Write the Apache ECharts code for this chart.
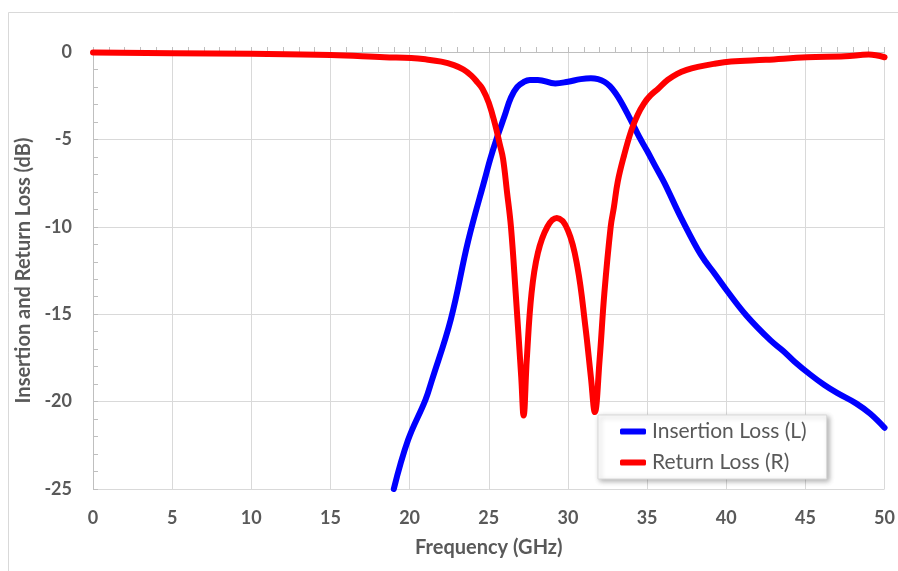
<!DOCTYPE html>
<html>
<head>
<meta charset="utf-8">
<script src="https://cdn.jsdelivr.net/npm/echarts@6/dist/echarts.min.js"></script>
<style>
html,body{margin:0;padding:0;background:#fff;}
#chart{width:898px;height:571px;}
</style>
</head>
<body>
<div id="chart"></div>
<script>
// Insertion loss (blue)
var insFreq = [19.0, 19.9, 21.0, 21.4, 22.6, 23.7, 24.8, 25.1, 25.5, 26.0, 26.4, 26.8, 27.2, 27.6, 28.1, 29.2, 30.0, 30.8, 31.45, 31.9, 32.3, 32.65, 33.0, 33.35, 34.0, 34.5, 35.0, 35.5, 36.1, 37.1, 38.2, 38.7, 39.2, 40.0, 41.3, 42.8, 43.6, 44.3, 45.3, 46.2, 47.0, 48.2, 49.1, 50.0];
var insLoss = [-25.0, -22.2, -19.9, -18.8, -15.3, -10.8, -7.1, -6.1, -4.95, -3.65, -2.6, -2.0, -1.72, -1.6, -1.6, -1.8, -1.7, -1.55, -1.5, -1.55, -1.7, -1.95, -2.35, -2.85, -3.95, -4.85, -5.65, -6.5, -7.5, -9.4, -11.3, -12.0, -12.6, -13.6, -15.1, -16.5, -17.1, -17.7, -18.45, -19.05, -19.5, -20.1, -20.7, -21.5];
// Return loss (red)
var retFreq = [0, 5, 10, 15, 18.4, 20.1, 21.0, 22.0, 22.8, 23.4, 23.9, 24.3, 24.6, 25.0, 25.4, 25.7, 25.9, 26.15, 26.4, 26.7, 27.05, 27.2, 27.4, 27.7, 28.1, 28.7, 29.3, 30.0, 30.6, 31.1, 31.45, 31.7, 32.0, 32.3, 32.7, 32.9, 33.15, 33.55, 34.0, 34.4, 34.8, 35.2, 35.7, 36.3, 36.9, 37.5, 38.2, 39.2, 40.3, 42.5, 45.1, 47.5, 49.0, 50.0];
var retLoss = [-0.03, -0.07, -0.1, -0.17, -0.3, -0.35, -0.42, -0.55, -0.75, -1.0, -1.35, -1.75, -2.1, -2.9, -4.15, -5.3, -6.1, -8.0, -10.0, -13.8, -18.6, -20.8, -17.6, -13.8, -11.5, -10.0, -9.5, -10.2, -12.3, -15.7, -18.6, -20.6, -17.6, -13.8, -10.0, -8.9, -7.4, -5.9, -4.5, -3.6, -2.95, -2.5, -2.1, -1.6, -1.25, -1.02, -0.85, -0.68, -0.55, -0.45, -0.3, -0.25, -0.15, -0.3];

var xTicks = [0, 5, 10, 15, 20, 25, 30, 35, 40, 45, 50];
var yTicks = [-25, -20, -15, -10, -5, 0];

var seriesNames = ['Insertion Loss (L)', 'Return Loss (R)'];

function pairs(xs, ys) { return xs.map(function (x, i) { return [x, ys[i]]; }); }

var FONT = 'Lato';
var TXT = '#595959';

var chart = echarts.init(document.getElementById('chart'), null, {renderer: 'canvas'});
chart.setOption({
  backgroundColor: '#ffffff',
  animation: false,
  graphic: [{
    type: 'rect', z: -10, silent: true,
    shape: {x: 8.5, y: 12.5, width: 1000, height: 1000},
    style: {fill: 'none', stroke: '#d9d9d9', lineWidth: 1}
  }],
  grid: {left: 93, right: 10, top: 52, bottom: 82, containLabel: false},
  legend: {
    orient: 'vertical',
    left: 598, top: 415,
    padding: [6, 20, 6, 22],
    itemGap: 10,
    itemWidth: 26, itemHeight: 6,
    icon: 'roundRect',
    backgroundColor: '#ffffff',
    borderColor: '#d9d9d9', borderWidth: 1,
    shadowBlur: 5, shadowOffsetX: 2, shadowOffsetY: 2, shadowColor: 'rgba(0,0,0,0.3)',
    textStyle: {fontFamily: FONT, fontSize: 21, color: TXT, fontWeight: 'normal', padding: [0, 0, 0, 1]},
    data: seriesNames
  },
  xAxis: {
    type: 'value', min: 0, max: 50, interval: 5,
    name: 'Frequency (GHz)', nameLocation: 'middle', nameGap: 49,
    nameTextStyle: {fontFamily: FONT, fontSize: 20, fontWeight: 'bold', color: TXT},
    axisLine: {show: true, lineStyle: {color: '#bfbfbf', width: 1}},
    axisTick: {show: true, inside: true, length: 5, lineStyle: {color: '#bfbfbf'}},
    minorTick: {show: true, splitNumber: 5, length: 5, lineStyle: {color: '#bfbfbf'}},
    axisLabel: {margin: 20, fontFamily: FONT, fontSize: 18, fontWeight: 'bold', color: TXT,
      formatter: function (v) { return xTicks.indexOf(v) >= 0 ? String(v) : ''; }},
    splitLine: {show: true, lineStyle: {color: '#d9d9d9', width: 1}}
  },
  yAxis: {
    type: 'value', min: -25, max: 0, interval: 5,
    name: 'Insertion and Return Loss (dB)', nameLocation: 'middle', nameGap: 54,
    nameTextStyle: {fontFamily: FONT, fontSize: 20, fontWeight: 'bold', color: TXT},
    axisLine: {show: true, lineStyle: {color: '#bfbfbf', width: 1}},
    axisTick: {show: true, inside: true, length: 5, lineStyle: {color: '#bfbfbf'}},
    minorTick: {show: true, splitNumber: 5, length: 5, lineStyle: {color: '#bfbfbf'}},
    axisLabel: {margin: 21, fontFamily: FONT, fontSize: 18, fontWeight: 'bold', color: TXT,
      formatter: function (v) { return yTicks.indexOf(v) >= 0 ? String(v) : ''; }},
    splitLine: {show: true, lineStyle: {color: '#d9d9d9', width: 1}}
  },
  series: [
    {
      name: seriesNames[0], type: 'line', data: pairs(insFreq, insLoss),
      showSymbol: false, symbol: 'none', smooth: 0.4,
      lineStyle: {color: '#0000ff', width: 6, cap: 'round', join: 'round'},
      itemStyle: {color: '#0000ff'}, z: 3
    },
    {
      name: seriesNames[1], type: 'line', data: pairs(retFreq, retLoss),
      showSymbol: false, symbol: 'none', smooth: 0.4,
      lineStyle: {color: '#ff0000', width: 6, cap: 'round', join: 'round'},
      itemStyle: {color: '#ff0000'}, z: 4
    }
  ]
});
</script>
</body>
</html>
